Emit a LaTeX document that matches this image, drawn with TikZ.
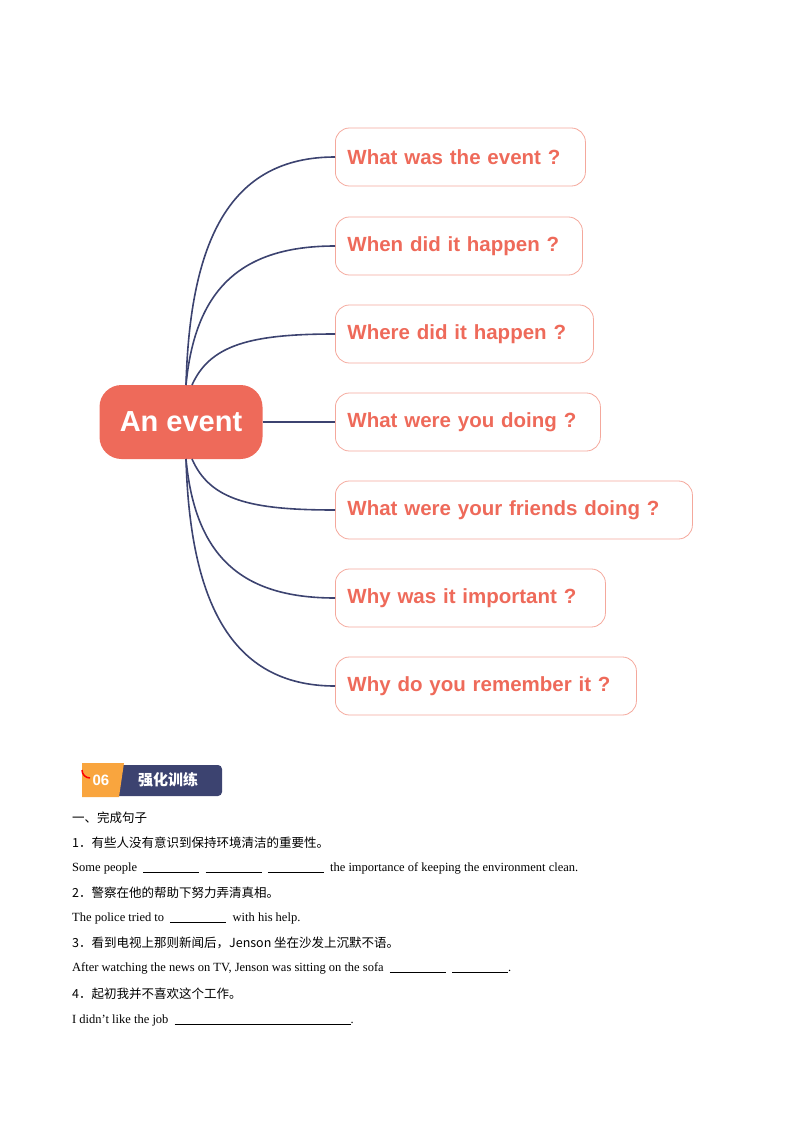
\documentclass[tikz,border=0pt]{standalone}
\usepackage{fontspec}
\setmainfont{Liberation Serif}
\newfontfamily\cjk{Noto Sans CJK SC}
\newfontfamily\headf{Liberation Sans}
\definecolor{sal}{HTML}{EE6A5A}
\definecolor{salb}{HTML}{F4A89C}
\definecolor{navy}{HTML}{3C4370}
\definecolor{org}{HTML}{F9A53E}
\begin{document}
\begin{tikzpicture}[x=1pt,y=-1pt,
  q/.style={draw=salb,line width=0.8pt,rounded corners=14pt,anchor=west,minimum height=58pt,inner xsep=12pt,text=sal,align=left,font=\headf\bfseries\fontsize{20.5}{20}\selectfont},
  link/.style={draw=navy,line width=1.6pt},
  t/.style={anchor=west,inner sep=0pt,font=\fontsize{12.5}{14}\selectfont},
  c/.style={anchor=west,inner sep=0pt,font=\cjk\fontsize{12.5}{14}\selectfont}]
\useasboundingbox (0,0) rectangle (800,1132);
\node[fill=sal,rounded corners=22pt,minimum width=163pt,minimum height=74pt,text=white,font=\headf\bfseries\fontsize{29}{29}\selectfont] (ev) at (181,422) {An event};
\node[q,text width=226pt] (a) at (335,157) {What was the event ?};
\node[q,text width=223pt] (b) at (335,246) {When did it happen ?};
\node[q,text width=234pt] (c) at (335,334) {Where did it happen ?};
\node[q,text width=241pt] (d) at (335,422) {What were you doing ?};
\node[q,text width=333pt] (e) at (335,510) {What were your friends doing ?};
\node[q,text width=246pt] (f) at (335,598) {Why was it important ?};
\node[q,text width=277pt] (g) at (335,686) {Why do you remember it ?};
\coordinate (s1) at (186,385);
\coordinate (s2) at (186,459);
\draw[link] (s1) .. controls (190,240) and (230,157) .. (a.west);
\draw[link] (s1) .. controls (195,290) and (240,246) .. (b.west);
\draw[link] (192,385) .. controls (210,345) and (250,334) .. (c.west);
\draw[link] (ev.east) -- (d.west);
\draw[link] (192,459) .. controls (210,500) and (250,510) .. (e.west);
\draw[link] (s2) .. controls (195,555) and (240,598) .. (f.west);
\draw[link] (s2) .. controls (190,600) and (230,686) .. (g.west);
% badge
\fill[navy,rounded corners=4pt] (115,765) rectangle (222,796);
\fill[org] (82,763) -- (124,763) -- (119,797) -- (82,797) -- cycle;
\draw[red,line width=1.5pt] (82,770) arc (180:90:8);
\node[text=white,font=\headf\bfseries\fontsize{15}{15}\selectfont] (n06) at (101,780) {06};
\node[text=white,font=\cjk\bfseries\fontsize{15}{15}\selectfont] (hd) at (168,780) {强化训练};
\node[c] (l1) at (72,818) {一、完成句子};
\node[c] (l2) at (72,843) {1．有些人没有意识到保持环境清洁的重要性。};
\node[t] (l3) at (72,868) {Some people \ \rule[-2pt]{56pt}{0.6pt}\ \ \rule[-2pt]{56pt}{0.6pt}\ \ \rule[-2pt]{56pt}{0.6pt}\ \ the importance of keeping the environment clean.};
\node[c] (l4) at (72,893) {2．警察在他的帮助下努力弄清真相。};
\node[t] (l5) at (72,918) {The police tried to \ \rule[-2pt]{56pt}{0.6pt}\ \ with his help.};
\node[c] (l6) at (72,943) {3．看到电视上那则新闻后，Jenson 坐在沙发上沉默不语。};
\node[t] (l7) at (72,968) {After watching the news on TV, Jenson was sitting on the sofa \ \rule[-2pt]{56pt}{0.6pt}\ \ \rule[-2pt]{56pt}{0.6pt}.};
\node[c] (l8) at (72,994) {4．起初我并不喜欢这个工作。};
\node[t] (l9) at (72,1020) {I didn’t like the job \ \rule[-2pt]{176pt}{0.6pt}.};
\end{tikzpicture}
\end{document}
